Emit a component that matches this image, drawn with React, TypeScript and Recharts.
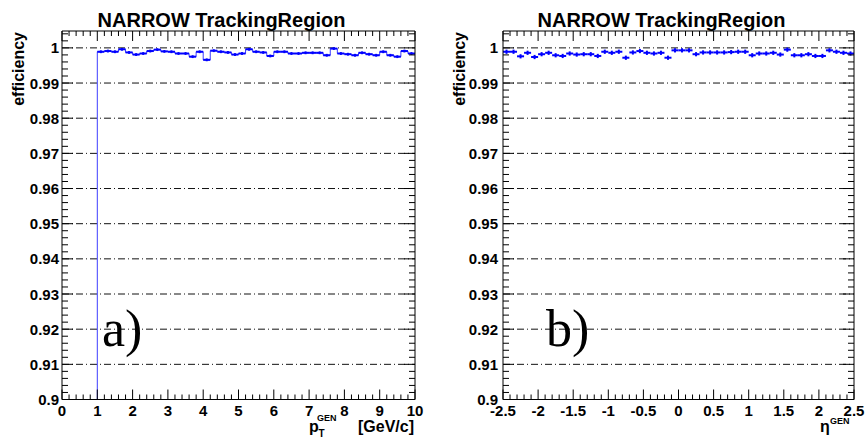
import React from "react";
import {
  ComposedChart,
  Line,
  Scatter,
  ErrorBar,
  XAxis,
  YAxis,
  ReferenceLine,
} from "recharts";

// pT panel: 45 bins of 0.2 GeV/c from 1 to 10
const ptBinLow = 1.0;
const ptBinWidth = 0.2;
const ptEff = [
  0.9989, 0.9991, 0.9989, 0.9996, 0.9987, 0.9981, 0.9984, 0.9991, 0.9995, 0.999,
  0.9989, 0.9984, 0.9984, 0.9975, 0.9989, 0.9966, 0.9992, 0.9989, 0.9987, 0.9981,
  0.9984, 0.9996, 0.9989, 0.9987, 0.9977, 0.9989, 0.9989, 0.9984, 0.9984, 0.9986,
  0.9986, 0.9986, 0.9979, 0.9998, 0.9984, 0.9982, 0.9979, 0.9986, 0.9982, 0.9979,
  0.9989, 0.9979, 0.9975, 0.9991, 0.9984,
];
const ptErr = 0.0004;

// eta panel: 50 bins of 0.1 from -2.5 to 2.5
const etaBinLow = -2.5;
const etaBinWidth = 0.1;
const etaEff = [
  0.9989, 0.9989, 0.9976, 0.9986, 0.9974, 0.9982, 0.9986, 0.9979, 0.9977, 0.9984,
  0.9981, 0.9982, 0.9982, 0.9977, 0.9989, 0.9986, 0.9989, 0.9972, 0.9987, 0.9991,
  0.9986, 0.9984, 0.9986, 0.9972, 0.9993, 0.9993, 0.9993, 0.9982, 0.9987, 0.9987,
  0.9987, 0.9987, 0.9988, 0.9989, 0.9989, 0.9979, 0.9984, 0.9984, 0.9986, 0.9981,
  0.9995, 0.9979, 0.9979, 0.9982, 0.9977, 0.9977, 0.9993, 0.9989, 0.9986, 0.9984,
];
const etaErr = 0.0006;

const yMajor = [0.9, 0.91, 0.92, 0.93, 0.94, 0.95, 0.96, 0.97, 0.98, 0.99, 1];
const yDomain = [0.9, 1.0048];
const ptMajor = [0, 1, 2, 3, 4, 5, 6, 7, 8, 9, 10];
const etaMajor = [-2.5, -2, -1.5, -1, -0.5, 0, 0.5, 1, 1.5, 2, 2.5];

const FONT = "'Liberation Sans', Arial, Helvetica, sans-serif";

// subdivide major ticks into 5 minor steps, extend up to the top of the domain
function withMinor(major: number[], hi: number) {
  const step = (major[1] - major[0]) / 5;
  const out: number[] = [];
  for (let v = major[0]; v <= hi + 1e-9; v += step) out.push(Number(v.toFixed(6)));
  return out;
}
const isMajorOf = (major: number[]) => (v: number) =>
  major.some((m) => Math.abs(m - v) < 1e-7);
const fmt = (v: number) => String(Number(v.toFixed(3)));

const yTicks = withMinor(yMajor, yDomain[1]);

function binsToPoints(low: number, w: number, eff: number[], err: number) {
  return eff.map((y, i) => ({ x: low + w * (i + 0.5), y, ex: w / 2, ey: err }));
}
function binsToStep(low: number, w: number, eff: number[]) {
  const pts = [{ x: low, y: yDomain[0] }];
  eff.forEach((y, i) => pts.push({ x: low + w * i, y }));
  pts.push({ x: low + w * eff.length, y: eff[eff.length - 1] });
  return pts;
}

const makeXTick = (side: "bottom" | "top", major: (v: number) => boolean) =>
  (props: any) => {
    const { x, y, payload } = props;
    const m = major(payload.value);
    const len = m ? 10 : 5;
    const dir = side === "bottom" ? -1 : 1;
    return (
      <g>
        <line x1={x} x2={x} y1={y} y2={y + dir * len} stroke="#000" strokeWidth={1} />
        {side === "bottom" && m && (
          <text x={x} y={y + 16} textAnchor="middle" fontFamily={FONT}
            fontWeight="bold" fontSize={15} fill="#000">
            {fmt(payload.value)}
          </text>
        )}
      </g>
    );
  };

const makeYTick = (side: "left" | "right", gap: number) => (props: any) => {
  const { x, y, payload } = props;
  const m = isMajorOf(yMajor)(payload.value);
  const len = m ? 11 : 6;
  const dir = side === "left" ? 1 : -1;
  return (
    <g>
      <line x1={x} x2={x + dir * len} y1={y} y2={y} stroke="#000" strokeWidth={1} />
      {side === "left" && m && (
        <text x={x - gap} y={y + 5.5} textAnchor="end" fontFamily={FONT}
          fontWeight="bold" fontSize={15} fill="#000">
          {fmt(payload.value)}
        </text>
      )}
    </g>
  );
};

interface PanelProps {
  left: number;
  margin: { top: number; right: number; bottom: number; left: number };
  xDomain: number[];
  xMajor: number[];
  points: { x: number; y: number; ex: number; ey: number }[];
  step?: { x: number; y: number }[];
  labelGap: number;
}

const Panel: React.FC<PanelProps> = ({ left, margin, xDomain, xMajor, points, step, labelGap }) => {
  const xTicks = withMinor(xMajor, xDomain[1]);
  const xm = isMajorOf(xMajor);
  return (
    <div style={{ position: "absolute", left, top: 0 }}>
      <ComposedChart width={433} height={439} margin={margin}>
        <XAxis xAxisId="b" dataKey="x" type="number" domain={xDomain} allowDataOverflow
          ticks={xTicks} interval={0} height={1} tickSize={0} tickMargin={0}
          tickLine={false} axisLine={{ stroke: "#000" }} tick={makeXTick("bottom", xm)} />
        <XAxis xAxisId="t" orientation="top" dataKey="x" type="number" domain={xDomain}
          allowDataOverflow ticks={xTicks} interval={0} height={1} tickSize={0}
          tickMargin={0} tickLine={false} axisLine={{ stroke: "#000" }}
          tick={makeXTick("top", xm)} />
        <YAxis yAxisId="l" dataKey="y" type="number" domain={yDomain} allowDataOverflow
          ticks={yTicks} interval={0} width={1} tickSize={0} tickMargin={0}
          tickLine={false} axisLine={{ stroke: "#000" }} tick={makeYTick("left", labelGap)} />
        <YAxis yAxisId="r" orientation="right" dataKey="y" type="number" domain={yDomain}
          allowDataOverflow ticks={yTicks} interval={0} width={1} tickSize={0}
          tickMargin={0} tickLine={false} axisLine={{ stroke: "#000" }}
          tick={makeYTick("right", labelGap)} />
        {yMajor.slice(1).map((v) => (
          <ReferenceLine key={v} xAxisId="b" yAxisId="l" y={v} stroke="#111"
            strokeWidth={1} strokeDasharray="7 3 1 3" />
        ))}
        {step && (
          <Line xAxisId="b" yAxisId="l" data={step} dataKey="y" type="stepAfter"
            stroke="#3d3dff" strokeWidth={1} dot={false} isAnimationActive={false} />
        )}
        <Scatter xAxisId="b" yAxisId="l" data={points} dataKey="y" fill="#0000ff"
          shape={() => <g />} isAnimationActive={false}>
          <ErrorBar dataKey="ex" direction="x" width={0} stroke="#0000ff"
            strokeWidth={2} isAnimationActive={false} />
          <ErrorBar dataKey="ey" direction="y" width={0} stroke="#0000ff"
            strokeWidth={2} isAnimationActive={false} />
        </Scatter>
      </ComposedChart>
    </div>
  );
};

const App: React.FC = () => {
  const ptPoints = binsToPoints(ptBinLow, ptBinWidth, ptEff, ptErr);
  const ptStep = binsToStep(ptBinLow, ptBinWidth, ptEff);
  const etaPoints = binsToPoints(etaBinLow, etaBinWidth, etaEff, etaErr);
  const bold = { fontFamily: FONT, fontWeight: "bold" as const, fill: "#000" };
  return (
    <div style={{ position: "absolute", left: 0, top: 0, width: 866, height: 439, background: "#fff" }}>
      <Panel left={0} margin={{ top: 30, right: 17, bottom: 38.5, left: 61 }}
        xDomain={[0, 10]} xMajor={ptMajor} points={ptPoints} step={ptStep} labelGap={3} />
      <Panel left={433} margin={{ top: 30, right: 11, bottom: 38.5, left: 69 }}
        xDomain={[-2.5, 2.5]} xMajor={etaMajor} points={etaPoints} labelGap={5} />
      <svg width={866} height={439} style={{ position: "absolute", left: 0, top: 0, pointerEvents: "none" }}>
        <text x={221.5} y={27} textAnchor="middle" fontSize={20} {...bold}>NARROW TrackingRegion</text>
        <text x={661.5} y={27} textAnchor="middle" fontSize={20} {...bold}>NARROW TrackingRegion</text>
        <text transform="translate(23.5,32) rotate(-90)" textAnchor="end" fontSize={16} {...bold}>efficiency</text>
        <text transform="translate(465,32) rotate(-90)" textAnchor="end" fontSize={16} {...bold}>efficiency</text>
        <text x={309} y={432} fontSize={16} {...bold}>p</text>
        <text x={318.5} y={437} fontSize={10} {...bold}>T</text>
        <text x={317} y={421} fontSize={9} {...bold}>GEN</text>
        <text x={358} y={432} fontSize={16} {...bold}>[GeV/c]</text>
        <text x={820} y={432} fontSize={16} {...bold}>η</text>
        <text x={830} y={424} fontSize={9} {...bold}>GEN</text>
        <text x={102} y={346} fontSize={52} fontFamily="'Liberation Serif', 'Times New Roman', serif" fill="#000">a)</text>
        <text x={546} y={346} fontSize={52} fontFamily="'Liberation Serif', 'Times New Roman', serif" fill="#000">b)</text>
      </svg>
    </div>
  );
};

export default App;
